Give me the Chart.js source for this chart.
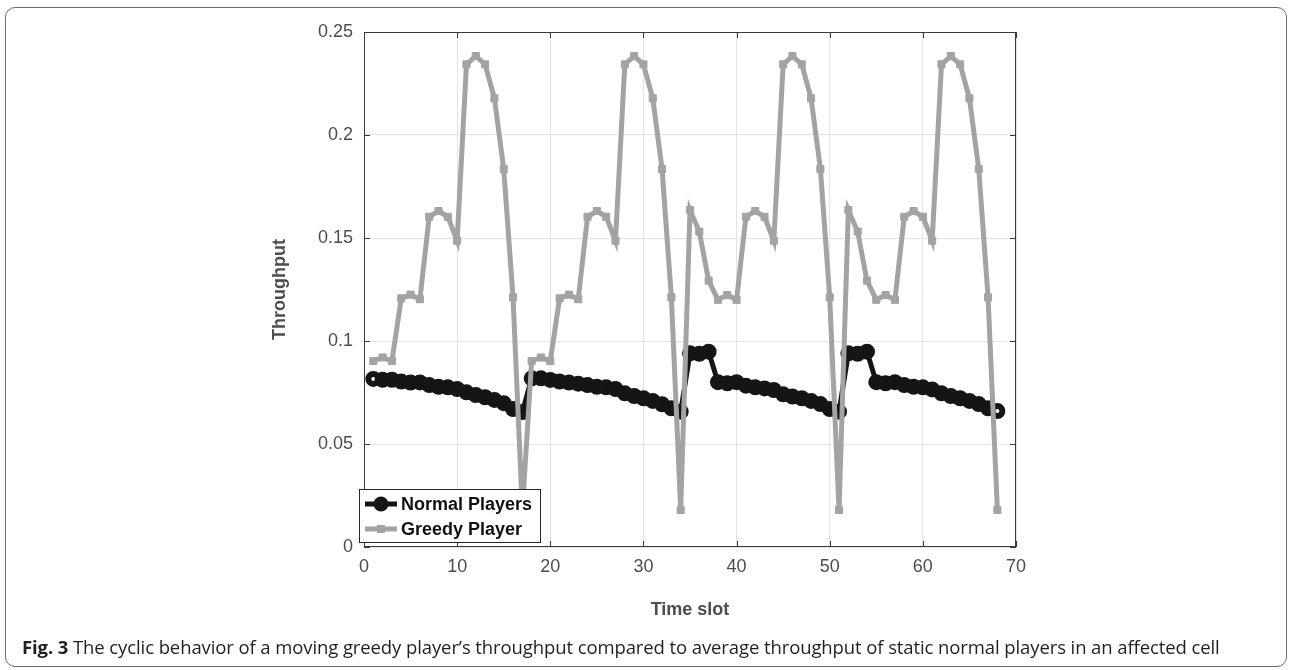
<!DOCTYPE html>
<html>
<head>
<meta charset="utf-8">
<script src="https://cdn.jsdelivr.net/npm/chart.js@4.4.0/dist/chart.umd.min.js"></script>
<style>
  html, body { margin: 0; padding: 0; background: #fff; }
  body { width: 1292px; height: 670px; position: relative; overflow: hidden; }
  #frame { position: absolute; left: 5px; top: 7px; width: 1282px; height: 660px; box-sizing: border-box;
           border: 1.5px solid #6b6b6b; border-radius: 10px; }
  #wrap { position: absolute; left: 0; top: 0; width: 1292px; height: 640px; }
  #caption { position: absolute; left: 22px; top: 634px; font-family: "Open Sans", "Noto Sans", sans-serif;
             font-size: 18.5px; letter-spacing: -0.1px; color: #231f20; white-space: nowrap; }
  #caption b { font-weight: 700; }
</style>
</head>
<body>
<div id="frame"></div>
<div id="wrap"><canvas id="chart" width="1292" height="640"></canvas></div>
<div id="caption"><b>Fig. 3</b> The cyclic behavior of a moving greedy player’s throughput compared to average throughput of static normal players in an affected cell</div>

<script>
// time slots (x axis)
const timeSlots = [1, 2, 3, 4, 5, 6, 7, 8, 9, 10, 11, 12, 13, 14, 15, 16, 17,
    18, 19, 20, 21, 22, 23, 24, 25, 26, 27, 28, 29, 30, 31, 32, 33, 34,
    35, 36, 37, 38, 39, 40, 41, 42, 43, 44, 45, 46, 47, 48, 49, 50, 51,
    52, 53, 54, 55, 56, 57, 58, 59, 60, 61, 62, 63, 64, 65, 66, 67, 68];

// average throughput of static normal players
const normalPlayers = [
    0.0816, 0.0812, 0.0812, 0.0803, 0.0798, 0.0799, 0.0786, 0.0778, 0.0775, 0.0767, 0.0751, 0.0738, 0.0727, 0.0714, 0.0698, 0.0670, 0.0655,
    0.0819, 0.0819, 0.0811, 0.0803, 0.0798, 0.0793, 0.0786, 0.0778, 0.0775, 0.0767, 0.0746, 0.0733, 0.0722, 0.0709, 0.0693, 0.0673, 0.0657,
    0.0940, 0.0938, 0.0948, 0.0800, 0.0795, 0.0800, 0.0783, 0.0775, 0.0770, 0.0762, 0.0741, 0.0730, 0.0722, 0.0709, 0.0694, 0.0670, 0.0657,
    0.0940, 0.0938, 0.0948, 0.0800, 0.0795, 0.0800, 0.0786, 0.0778, 0.0775, 0.0765, 0.0746, 0.0733, 0.0722, 0.0709, 0.0694, 0.0673, 0.0660
];

// throughput of the moving greedy player
const greedyPlayer = [
    0.0903, 0.0920, 0.0903, 0.1207, 0.1225, 0.1203, 0.1603, 0.1631, 0.1603, 0.1487, 0.2343, 0.2383, 0.2343, 0.2178, 0.1835, 0.1212, 0.0180,
    0.0903, 0.0920, 0.0903, 0.1207, 0.1225, 0.1203, 0.1603, 0.1631, 0.1603, 0.1487, 0.2343, 0.2383, 0.2343, 0.2178, 0.1835, 0.1212, 0.0180,
    0.1636, 0.1531, 0.1293, 0.1200, 0.1223, 0.1200, 0.1603, 0.1631, 0.1603, 0.1487, 0.2343, 0.2383, 0.2343, 0.2178, 0.1835, 0.1212, 0.0180,
    0.1636, 0.1531, 0.1293, 0.1200, 0.1223, 0.1200, 0.1603, 0.1631, 0.1603, 0.1487, 0.2343, 0.2383, 0.2343, 0.2178, 0.1835, 0.1212, 0.0180
];

const xTicks = [0, 10, 20, 30, 40, 50, 60, 70];
const yTicks = [0, 0.05, 0.1, 0.15, 0.2, 0.25];

const BLACK = "#151515";
const GREY = "#a3a3a3";
const AXIS = "#3a3a3a";
const LABEL = "#4d4d4d";
const FONT = '"Liberation Sans", Arial, sans-serif';

// box around the axes, inward ticks on all four sides, and the legend inside the plot
const matlabAxes = {
    id: "matlabAxes",
    beforeDatasetsDraw(chart) {
        const { ctx, chartArea: a, scales: { x, y } } = chart;
        ctx.save();
        ctx.strokeStyle = AXIS;
        ctx.lineWidth = 1;
        ctx.strokeRect(a.left + 0.5, a.top + 0.5, a.width - 1, a.height - 1);
        ctx.beginPath();
        xTicks.forEach(v => {
            const px = Math.round(x.getPixelForValue(v)) + 0.5;
            ctx.moveTo(px, a.bottom); ctx.lineTo(px, a.bottom - 6);
            ctx.moveTo(px, a.top); ctx.lineTo(px, a.top + 6);
        });
        yTicks.forEach(v => {
            const py = Math.round(y.getPixelForValue(v)) + 0.5;
            ctx.moveTo(a.left, py); ctx.lineTo(a.left + 6, py);
            ctx.moveTo(a.right, py); ctx.lineTo(a.right - 6, py);
        });
        ctx.stroke();
        ctx.restore();
    },
    afterDatasetsDraw(chart) {
        const { ctx, chartArea: a } = chart;
        const left = a.left - 5, top = a.bottom - 58;
        ctx.save();
        ctx.fillStyle = "#fff";
        ctx.fillRect(left, top, 181, 53);
        ctx.strokeStyle = "#262626";
        ctx.lineWidth = 1;
        ctx.strokeRect(left + 0.5, top + 0.5, 181, 53);

        const rows = [
            { text: chart.data.datasets[0].label, color: BLACK, dy: 15, marker: "circle" },
            { text: chart.data.datasets[1].label, color: GREY, dy: 40, marker: "rect" }
        ];
        rows.forEach(r => {
            const yy = top + r.dy;
            ctx.strokeStyle = r.color;
            ctx.lineWidth = 5;
            ctx.beginPath();
            ctx.moveTo(left + 6, yy); ctx.lineTo(left + 38, yy);
            ctx.stroke();
            ctx.fillStyle = r.color;
            if (r.marker === "circle") {
                ctx.beginPath(); ctx.arc(left + 22, yy, 7.5, 0, Math.PI * 2); ctx.fill();
            } else {
                ctx.fillRect(left + 18, yy - 4, 8, 8);
            }
            ctx.fillStyle = "#111";
            ctx.font = 'bold 18px ' + FONT;
            ctx.textBaseline = "middle";
            ctx.fillText(r.text, left + 42, yy + 1);
        });
        ctx.restore();
    }
};

const toPoints = vals => timeSlots.map((t, i) => ({ x: t, y: vals[i] }));
const last = timeSlots.length - 1;

new Chart(document.getElementById("chart").getContext("2d"), {
    type: "line",
    data: {
        datasets: [
            {
                label: "Normal Players",
                data: toPoints(normalPlayers),
                borderColor: BLACK,
                borderWidth: 5,
                pointStyle: "circle",
                pointRadius: 5,
                pointBorderWidth: 6,
                pointBorderColor: BLACK,
                pointBackgroundColor: c => (c.dataIndex === 0 || c.dataIndex === last) ? "#fff" : BLACK,
                order: 2
            },
            {
                label: "Greedy Player",
                data: toPoints(greedyPlayer),
                borderColor: GREY,
                borderWidth: 5,
                pointStyle: "rect",
                pointRadius: 5,
                pointBorderWidth: 1,
                pointBorderColor: GREY,
                pointBackgroundColor: GREY,
                order: 1
            }
        ]
    },
    options: {
        responsive: false,
        animation: false,
        devicePixelRatio: 1,
        layout: { padding: { left: 250, top: 32, right: 276, bottom: 0 } },
        plugins: { legend: { display: false }, tooltip: { enabled: false } },
        scales: {
            x: {
                type: "linear",
                min: 0, max: 70,
                afterFit: s => { s.height = 93; },
                afterBuildTicks: s => { s.ticks = xTicks.map(v => ({ value: v })); },
                ticks: { color: LABEL, font: { family: FONT, size: 18 }, padding: 9 },
                grid: { color: "#e3e3e3", drawTicks: false },
                border: { display: false },
                title: { display: true, text: "Time slot", color: LABEL,
                         font: { family: FONT, size: 18, weight: "bold" }, padding: { bottom: 19 } }
            },
            y: {
                type: "linear",
                min: 0, max: 0.25,
                afterFit: s => { s.width = 114; },
                afterBuildTicks: s => { s.ticks = yTicks.map(v => ({ value: v })); },
                ticks: { color: LABEL, font: { family: FONT, size: 18 }, padding: 11,
                         callback: v => String(+v.toFixed(2)) },
                grid: { color: "#e3e3e3", drawTicks: false },
                border: { display: false },
                title: { display: true, text: "Throughput", color: LABEL,
                         font: { family: FONT, size: 18, weight: "bold" }, padding: { top: 19 } }
            }
        }
    },
    plugins: [matlabAxes]
});
</script>
</body>
</html>
